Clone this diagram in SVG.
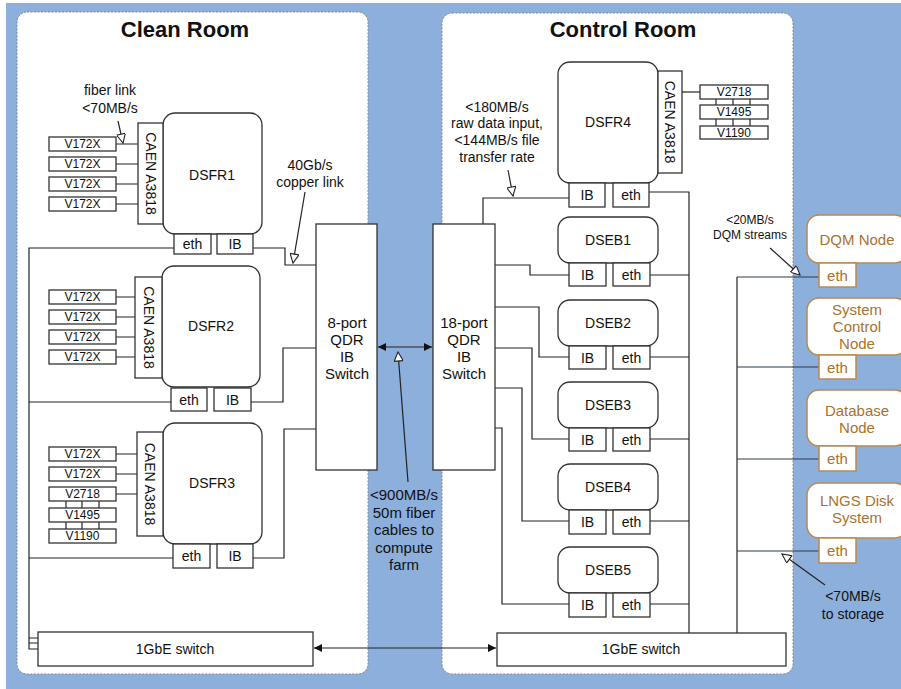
<svg xmlns="http://www.w3.org/2000/svg" width="901" height="689" viewBox="0 0 901 689">
<defs>
<style>
.bx{fill:#fff;stroke:#333;stroke-width:1.3}
.ex{fill:#fff;stroke:#b98a50;stroke-width:1.5}
.ln{fill:none;stroke:#222;stroke-width:1.2}
.bl{fill:none;stroke:#2a3a4a;stroke-width:1.2}
.pn{fill:#fff;stroke:#888;stroke-width:1;stroke-dasharray:2 1.5}
text{font-family:"Liberation Sans",Arial,sans-serif;fill:#111;text-anchor:middle;dominant-baseline:central}
.ti{font-size:22px;font-weight:bold}
.n{font-size:14px}
.s{font-size:12px}
.m{font-size:15px}
.et{fill:#a8722f;font-size:15px}
</style>
<marker id="open" viewBox="0 0 10 10" refX="10" refY="5" markerWidth="11" markerHeight="9" markerUnits="userSpaceOnUse" orient="auto"><path d="M0,0 L10,5 L0,10 z" fill="#fff" stroke="#222" stroke-width="1.2"/></marker>
<marker id="fill" viewBox="0 0 10 10" refX="10" refY="5" markerWidth="10" markerHeight="8" markerUnits="userSpaceOnUse" orient="auto-start-reverse"><path d="M0,0 L10,5 L0,10 z" fill="#111"/></marker>
</defs>
<rect x="0" y="0" width="901" height="689" fill="#8cafdc"/>
<rect x="0" y="0" width="901" height="3" fill="#fff"/>
<rect x="0" y="0" width="6" height="689" fill="#fff"/>

<g id="clean-room">
<rect class="pn" x="17" y="12" width="351" height="662" rx="10"/>
<text class="ti" x="185" y="29">Clean Room</text>
</g>
<g id="control-room">
<rect class="pn" x="442" y="13" width="351" height="661" rx="10"/>
<text class="ti" x="623" y="29">Control Room</text>
</g>

<g id="connectors">
<path class="ln" d="M116,144 H138 M116,164 H138 M116,184 H138 M116,204 H138"/>
<path class="ln" d="M116,297 H135 M116,317 H135 M116,337 H135 M116,357 H135"/>
<path class="ln" d="M116,454 H137 M116,474 H137 M116,494 H137"/>
<path class="ln" d="M66,501 V508 M82,501 V508 M99,501 V508 M66,522 V529 M82,522 V529 M99,522 V529"/>
<path class="ln" d="M174,248 H29 V649 H38 M29,638 H38 M29,643 H38 M171,402 H29 M173,558 H29"/>
<path class="ln" d="M253,248 H285 V265 H316"/>
<path class="ln" d="M251,402 H283 V348 H316"/>
<path class="ln" d="M253,558 H284 V429 H316"/>
<path class="ln" d="M378,347 H432" marker-start="url(#fill)" marker-end="url(#fill)"/>
<path class="ln" d="M314,648 H496" marker-start="url(#fill)" marker-end="url(#fill)"/>
<path class="ln" d="M682,92 H700"/>
<path class="ln" d="M716,99 V105 M733,99 V105 M750,99 V105 M716,119 V126 M733,119 V126 M750,119 V126"/>
<path class="ln" d="M569,198 H483 V224"/>
<path class="ln" d="M649,192 H689 V633"/>
<path class="ln" d="M495,265 H530 V275 H569"/>
<path class="ln" d="M495,307 H539 V357 H569"/>
<path class="ln" d="M495,348 H532 V439 H569"/>
<path class="ln" d="M495,388 H522 V521 H569"/>
<path class="ln" d="M495,428 H502 V604 H569"/>
<path class="ln" d="M650,275 H689 M650,357 H689 M650,439 H689 M650,521 H689 M650,604 H689"/>
<path class="ln" d="M737,277 V633"/>
<path class="bl" d="M737,277 H819 M737,367 H819 M737,459 H819 M737,551 H819"/>
<path class="ln" d="M118,121 L123,143" marker-end="url(#open)"/>
<path class="ln" d="M305,192 L293,263" marker-end="url(#open)"/>
<path class="ln" d="M408,482 L398,352" marker-end="url(#open)"/>
<path class="ln" d="M508,170 L513,196" marker-end="url(#open)"/>
<path class="ln" d="M770,248 L800,275" marker-end="url(#open)"/>
<path class="ln" d="M825,585 L782,554" marker-end="url(#open)"/>
</g>

<g id="labels">
<text class="n" x="110" y="90">fiber link</text>
<text class="n" x="110" y="108">&lt;70MB/s</text>
<text class="n" x="310" y="165">40Gb/s</text>
<text class="n" x="310" y="182">copper link</text>
<text class="m" x="404" y="494">&lt;900MB/s</text>
<text class="m" x="404" y="512">50m fiber</text>
<text class="m" x="404" y="529">cables to</text>
<text class="m" x="404" y="547">compute</text>
<text class="m" x="404" y="564">farm</text>
<text class="n" x="497" y="107">&lt;180MB/s</text>
<text class="n" x="497" y="123">raw data input,</text>
<text class="n" x="497" y="140">&lt;144MB/s file</text>
<text class="n" x="497" y="157">transfer rate</text>
<text class="s" x="750" y="220">&lt;20MB/s</text>
<text class="s" x="750" y="235">DQM streams</text>
<text class="n" x="853" y="596">&lt;70MB/s</text>
<text class="n" x="853" y="614">to storage</text>
</g>

<g id="DSFR1">
<rect class="bx" x="163" y="113" width="99" height="121" rx="12"/>
<text class="n" x="212" y="175">DSFR1</text>
<rect class="bx" x="138" y="123" width="25" height="101"/>
<text class="n" transform="translate(150.5,173.5) rotate(90)">CAEN A3818</text>
<rect class="bx" x="49" y="137" width="67" height="14"/><text class="s" x="82.5" y="144">V172X</text>
<rect class="bx" x="49" y="157" width="67" height="14"/><text class="s" x="82.5" y="164">V172X</text>
<rect class="bx" x="49" y="177" width="67" height="14"/><text class="s" x="82.5" y="184">V172X</text>
<rect class="bx" x="49" y="197" width="67" height="14"/><text class="s" x="82.5" y="204">V172X</text>
<rect class="bx" x="174" y="234" width="37" height="20"/><text class="n" x="192.5" y="244">eth</text>
<rect class="bx" x="217" y="234" width="36" height="20"/><text class="n" x="235" y="244">IB</text>
</g>

<g id="DSFR2">
<rect class="bx" x="162" y="266" width="98" height="121" rx="12"/>
<text class="n" x="211" y="326">DSFR2</text>
<rect class="bx" x="135" y="277" width="27" height="101"/>
<text class="n" transform="translate(148.5,327.5) rotate(90)">CAEN A3818</text>
<rect class="bx" x="49" y="290" width="67" height="14"/><text class="s" x="82.5" y="297">V172X</text>
<rect class="bx" x="49" y="310" width="67" height="14"/><text class="s" x="82.5" y="317">V172X</text>
<rect class="bx" x="49" y="330" width="67" height="14"/><text class="s" x="82.5" y="337">V172X</text>
<rect class="bx" x="49" y="350" width="67" height="14"/><text class="s" x="82.5" y="357">V172X</text>
<rect class="bx" x="171" y="388" width="36" height="23"/><text class="n" x="189" y="400">eth</text>
<rect class="bx" x="214" y="388" width="37" height="23"/><text class="n" x="232.5" y="400">IB</text>
</g>

<g id="DSFR3">
<rect class="bx" x="163" y="423" width="99" height="121" rx="12"/>
<text class="n" x="212" y="483">DSFR3</text>
<rect class="bx" x="137" y="432" width="26" height="104"/>
<text class="n" transform="translate(150,484) rotate(90)">CAEN A3818</text>
<rect class="bx" x="49" y="447" width="67" height="14"/><text class="s" x="82.5" y="454">V172X</text>
<rect class="bx" x="49" y="467" width="67" height="14"/><text class="s" x="82.5" y="474">V172X</text>
<rect class="bx" x="49" y="487" width="67" height="14"/><text class="s" x="82.5" y="494">V2718</text>
<rect class="bx" x="49" y="508" width="67" height="14"/><text class="s" x="82.5" y="515">V1495</text>
<rect class="bx" x="49" y="529" width="67" height="14"/><text class="s" x="82.5" y="536">V1190</text>
<rect class="bx" x="173" y="544" width="37" height="24"/><text class="n" x="191.5" y="556">eth</text>
<rect class="bx" x="217" y="544" width="36" height="24"/><text class="n" x="235" y="556">IB</text>
</g>

<g id="ib-switch-8">
<rect class="bx" x="316" y="224" width="61" height="246"/>
<text class="m" x="347" y="322">8-port</text>
<text class="m" x="347" y="339">QDR</text>
<text class="m" x="347" y="356">IB</text>
<text class="m" x="347" y="373">Switch</text>
</g>
<g id="ib-switch-18">
<rect class="bx" x="433" y="224" width="62" height="246"/>
<text class="m" x="464" y="322">18-port</text>
<text class="m" x="464" y="339">QDR</text>
<text class="m" x="464" y="356">IB</text>
<text class="m" x="464" y="373">Switch</text>
</g>

<g id="gbe-switch-clean">
<rect class="bx" x="38" y="632" width="275" height="34"/>
<text class="n" x="175" y="649">1GbE switch</text>
</g>
<g id="gbe-switch-control">
<rect class="bx" x="497" y="633" width="289" height="33"/>
<text class="n" x="641" y="649">1GbE switch</text>
</g>

<g id="DSFR4">
<rect class="bx" x="558" y="62" width="100" height="121" rx="12"/>
<text class="n" x="608" y="122">DSFR4</text>
<rect class="bx" x="658" y="71" width="24" height="102"/>
<text class="n" transform="translate(670,122) rotate(90)">CAEN A3818</text>
<rect class="bx" x="700" y="85" width="68" height="14"/><text class="s" x="734" y="92">V2718</text>
<rect class="bx" x="700" y="105" width="68" height="14"/><text class="s" x="734" y="112">V1495</text>
<rect class="bx" x="700" y="126" width="68" height="13"/><text class="s" x="734" y="132.5">V1190</text>
<rect class="bx" x="569" y="183" width="36" height="24"/><text class="n" x="587" y="195">IB</text>
<rect class="bx" x="613" y="183" width="36" height="24"/><text class="n" x="631" y="195">eth</text>
</g>

<g id="DSEB1">
<rect class="bx" x="558" y="217" width="100" height="46" rx="12"/>
<text class="n" x="608" y="240">DSEB1</text>
<rect class="bx" x="569" y="263" width="37" height="23"/><text class="n" x="587.5" y="275">IB</text>
<rect class="bx" x="613" y="263" width="37" height="23"/><text class="n" x="631.5" y="275">eth</text>
</g>
<g id="DSEB2">
<rect class="bx" x="558" y="300" width="100" height="46" rx="12"/>
<text class="n" x="608" y="323">DSEB2</text>
<rect class="bx" x="569" y="346" width="37" height="23"/><text class="n" x="587.5" y="358">IB</text>
<rect class="bx" x="613" y="346" width="37" height="23"/><text class="n" x="631.5" y="358">eth</text>
</g>
<g id="DSEB3">
<rect class="bx" x="558" y="382" width="100" height="46" rx="12"/>
<text class="n" x="608" y="405">DSEB3</text>
<rect class="bx" x="569" y="428" width="37" height="23"/><text class="n" x="587.5" y="440">IB</text>
<rect class="bx" x="613" y="428" width="37" height="23"/><text class="n" x="631.5" y="440">eth</text>
</g>
<g id="DSEB4">
<rect class="bx" x="558" y="464" width="100" height="46" rx="12"/>
<text class="n" x="608" y="487">DSEB4</text>
<rect class="bx" x="569" y="510" width="37" height="24"/><text class="n" x="587.5" y="522">IB</text>
<rect class="bx" x="613" y="510" width="37" height="24"/><text class="n" x="631.5" y="522">eth</text>
</g>
<g id="DSEB5">
<rect class="bx" x="558" y="547" width="100" height="46" rx="12"/>
<text class="n" x="608" y="570">DSEB5</text>
<rect class="bx" x="569" y="593" width="37" height="24"/><text class="n" x="587.5" y="605">IB</text>
<rect class="bx" x="613" y="593" width="37" height="24"/><text class="n" x="631.5" y="605">eth</text>
</g>

<g id="dqm-node">
<rect class="ex" x="807" y="215" width="100" height="48" rx="12"/>
<text class="et" x="857" y="239">DQM Node</text>
<rect class="ex" x="819" y="263" width="37" height="24"/><text class="et" x="837.5" y="275">eth</text>
</g>
<g id="system-control-node">
<rect class="ex" x="807" y="298" width="100" height="57" rx="12"/>
<text class="et" x="857" y="309">System</text>
<text class="et" x="857" y="326">Control</text>
<text class="et" x="857" y="343">Node</text>
<rect class="ex" x="819" y="355" width="37" height="24"/><text class="et" x="837.5" y="367">eth</text>
</g>
<g id="database-node">
<rect class="ex" x="807" y="390" width="100" height="56" rx="12"/>
<text class="et" x="857" y="410">Database</text>
<text class="et" x="857" y="427">Node</text>
<rect class="ex" x="819" y="446" width="37" height="25"/><text class="et" x="837.5" y="458.5">eth</text>
</g>
<g id="lngs-disk-system">
<rect class="ex" x="807" y="483" width="100" height="55" rx="12"/>
<text class="et" x="857" y="500">LNGS Disk</text>
<text class="et" x="857" y="517">System</text>
<rect class="ex" x="819" y="538" width="37" height="25"/><text class="et" x="837.5" y="550.5">eth</text>
</g>
</svg>
